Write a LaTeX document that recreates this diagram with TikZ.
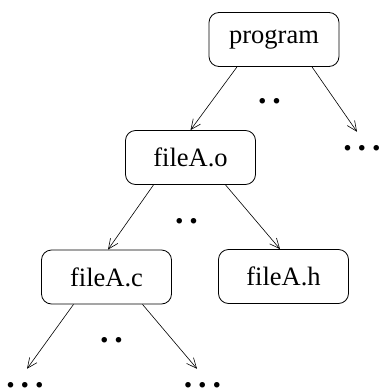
\documentclass[tikz,border=0pt]{standalone}
\usepackage{fontspec}
\setmainfont{Liberation Serif}
\usetikzlibrary{arrows.meta,calc}
\tikzset{
  filebox/.style={draw, rounded corners=10pt, line width=0.8pt, minimum width=130pt, minimum height=54pt, inner sep=0pt, font=\fontsize{26.5}{27}\selectfont},
  link/.style={line width=0.6pt, -{Straight Barb[length=10pt,width=9pt,line width=0.6pt]}},
  ellip/.style={anchor=base, inner sep=0pt, font=\fontsize{34}{34}\selectfont\bfseries}
}
\newcommand{\tridots}{.\hspace{5.8pt}.\hspace{5.8pt}.}
\newcommand{\duodots}{.\hspace{5.8pt}.}
\begin{document}
\begin{tikzpicture}[x=1pt,y=-1pt]
\useasboundingbox (0,0) rectangle (381,391);
\node[filebox] (prog) at (274,39.5) {program};
\node[filebox] (fo) at (190.5,157.5) {fileA.o};
\node[filebox] (fc) at (106.5,277) {fileA.c};
\node[filebox] (fh) at (283.5,276.5) {fileA.h};
\node[ellip] (d1) at (362,150) {\tridots};
\node[ellip] (d2) at (269.5,103) {\duodots};
\node[ellip] (d3) at (186.5,223) {\duodots};
\node[ellip] (d4) at (111.5,342) {\duodots};
\node[ellip] (d5) at (25,387) {\tridots};
\node[ellip] (d6) at (202.5,387) {\tridots};
\draw[link] ($(prog.south)+(-37,0)$) -- (fo.north);
\draw[link] ($(prog.south)+(38,0)$) -- ($(d1.north)+(-5,-13)$);
\draw[link] ($(fo.south)+(-37,0)$) -- ($(fc.north)+(1.5,0)$);
\draw[link] ($(fo.south)+(35,0)$) -- ($(fh.north)+(-3.5,0)$);
\draw[link] ($(fc.south)+(-33,0)$) -- ($(d5.north)+(2,-13)$);
\draw[link] ($(fc.south)+(36,0)$) -- ($(d6.north)+(-5.5,-13)$);
\end{tikzpicture}
\end{document}
